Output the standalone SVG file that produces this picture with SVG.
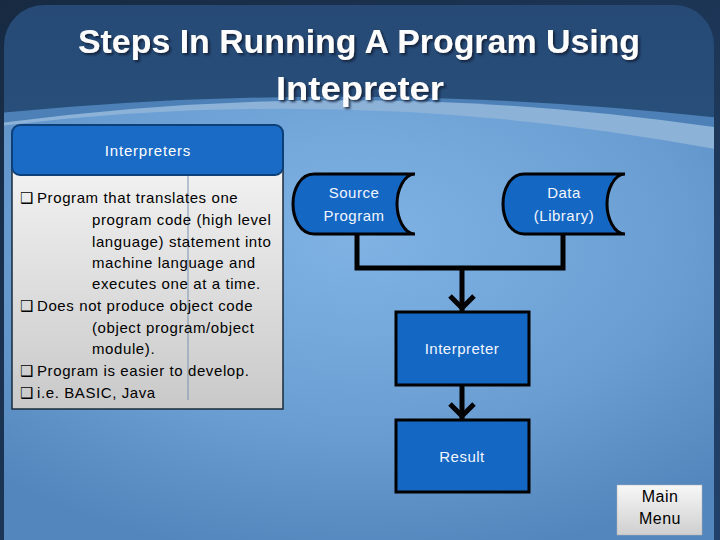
<svg xmlns="http://www.w3.org/2000/svg" width="720" height="540" viewBox="0 0 720 540">
<defs>
<linearGradient id="outer" x1="0" y1="0" x2="1" y2="1"><stop offset="0" stop-color="#172a42"/><stop offset="1" stop-color="#22416a"/></linearGradient>
<linearGradient id="top" x1="0" y1="0" x2="0" y2="1"><stop offset="0" stop-color="#264a75"/><stop offset="1" stop-color="#30608f"/></linearGradient>
<radialGradient id="low" cx="0.5" cy="0.3" r="0.75"><stop offset="0" stop-color="#80b3e4"/><stop offset="0.6" stop-color="#6a9ed2"/><stop offset="1" stop-color="#5286bc"/></radialGradient>
<linearGradient id="body" x1="0" y1="0" x2="0" y2="1"><stop offset="0" stop-color="#f2f2f2"/><stop offset="1" stop-color="#c9c9c9"/></linearGradient>
<linearGradient id="btn" x1="0" y1="0" x2="0" y2="1"><stop offset="0" stop-color="#f7f7f7"/><stop offset="1" stop-color="#cfcfcf"/></linearGradient>
<clipPath id="panelClip"><rect x="4" y="5" width="710" height="600" rx="40"/></clipPath>
<filter id="shadow" x="-5%" y="-20%" width="110%" height="140%"><feDropShadow dx="2" dy="2" stdDeviation="1" flood-color="#0a1a30" flood-opacity="0.8"/></filter>
<marker id="arrow" markerUnits="userSpaceOnUse" viewBox="0 0 22 30" refX="19" refY="15" markerWidth="22" markerHeight="30" orient="auto">
<path d="M3,3 L15,15 L3,27" fill="none" stroke="#000" stroke-width="5"/>
</marker>
<style>
.title{font-family:"Liberation Sans",Arial,sans-serif;font-weight:bold;font-size:34px;fill:#fff;text-anchor:middle}
.body{font-family:"Liberation Sans",Arial,sans-serif;font-size:15px;fill:#000;letter-spacing:0.6px}
.bul{font-family:"DejaVu Sans",sans-serif;font-size:15px;fill:#000}
.wt{font-family:"Liberation Sans",Arial,sans-serif;font-size:15px;fill:#f2f6ff;text-anchor:middle;letter-spacing:0.5px}
.bt{font-family:"Liberation Sans",Arial,sans-serif;font-size:16px;fill:#000;text-anchor:middle;letter-spacing:0.5px}
.shape{fill:#1567c4;stroke:#000;stroke-width:3}
.conn{fill:none;stroke:#000;stroke-width:5}
</style>
</defs>

<g id="background">
<rect x="0" y="0" width="720" height="540" fill="url(#outer)"/>
<g clip-path="url(#panelClip)">
<rect x="4" y="5" width="710" height="600" fill="url(#top)"/>
<path d="M0,113 Q360,78 720,118 L720,540 L0,540 Z" fill="#4c80b6"/>
<path d="M0,123 Q360,75 720,128 L720,540 L0,540 Z" fill="#8db2d8"/>
<path d="M0,126 Q360,82 720,150 L720,540 L0,540 Z" fill="url(#low)"/>
</g>
</g>

<g id="title" filter="url(#shadow)">
<text class="title" x="359" y="53" textLength="562" lengthAdjust="spacingAndGlyphs">Steps In Running A Program Using</text>
<text class="title" x="360" y="100" textLength="168" lengthAdjust="spacingAndGlyphs">Intepreter</text>
</g>

<g id="interpreters-box">
<rect x="12" y="165" width="271" height="244" fill="url(#body)" stroke="#1a2a3a" stroke-width="1.5"/>
<line x1="188" y1="175" x2="188" y2="400" stroke="#7a93b0" stroke-width="1"/>
<rect x="12" y="125" width="271" height="50" rx="8" fill="#1a6bc6" stroke="#0d3f78" stroke-width="2"/>
<text x="148" y="156" font-family="Liberation Sans, Arial, sans-serif" font-size="15" letter-spacing="0.8" fill="#fff" text-anchor="middle">Interpreters</text>
<text class="bul" x="20" y="203">❑</text>
<text class="body" x="37" y="203">Program that translates one</text>
<text class="body" x="92" y="225">program code (high level</text>
<text class="body" x="92" y="247">language) statement into</text>
<text class="body" x="92" y="268">machine language and</text>
<text class="body" x="92" y="289">executes one at a time.</text>
<text class="bul" x="20" y="311">❑</text>
<text class="body" x="37" y="311">Does not produce object code</text>
<text class="body" x="92" y="333">(object program/object</text>
<text class="body" x="92" y="354">module).</text>
<text class="bul" x="20" y="376">❑</text>
<text class="body" x="37" y="376">Program is easier to develop.</text>
<text class="bul" x="20" y="398">❑</text>
<text class="body" x="37" y="398">i.e. BASIC, Java</text>
</g>

<g id="connectors">
<polyline class="conn" points="357,234 357,268 563,268 563,234"/>
<line class="conn" x1="462" y1="268" x2="462" y2="312" marker-end="url(#arrow)"/>
<line class="conn" x1="462" y1="385" x2="462" y2="420" marker-end="url(#arrow)"/>
</g>

<g id="source-program">
<path class="shape" d="M415,174 H314 C300,174 293,190 293,204 C293,218 300,234 314,234 H415 C404,234 397,218 397,204 C397,190 404,174 415,174 Z"/>
<text class="wt" x="354" y="198">Source</text>
<text class="wt" x="354" y="221">Program</text>
</g>

<g id="data-library">
<path class="shape" d="M625,174 H524 C510,174 503,190 503,204 C503,218 510,234 524,234 H625 C614,234 607,218 607,204 C607,190 614,174 625,174 Z"/>
<text class="wt" x="564" y="198">Data</text>
<text class="wt" x="564" y="221">(Library)</text>
</g>

<g id="interpreter">
<rect class="shape" x="396" y="312" width="133" height="73"/>
<text class="wt" x="462" y="354">Interpreter</text>
</g>

<g id="result">
<rect class="shape" x="396" y="420" width="133" height="72"/>
<text class="wt" x="462" y="462">Result</text>
</g>

<g id="main-menu">
<rect x="617" y="485" width="85" height="50" fill="url(#btn)" stroke="#b0b0b0" stroke-width="0.5"/>
<text class="bt" x="660" y="502">Main</text>
<text class="bt" x="660" y="524">Menu</text>
</g>
</svg>
